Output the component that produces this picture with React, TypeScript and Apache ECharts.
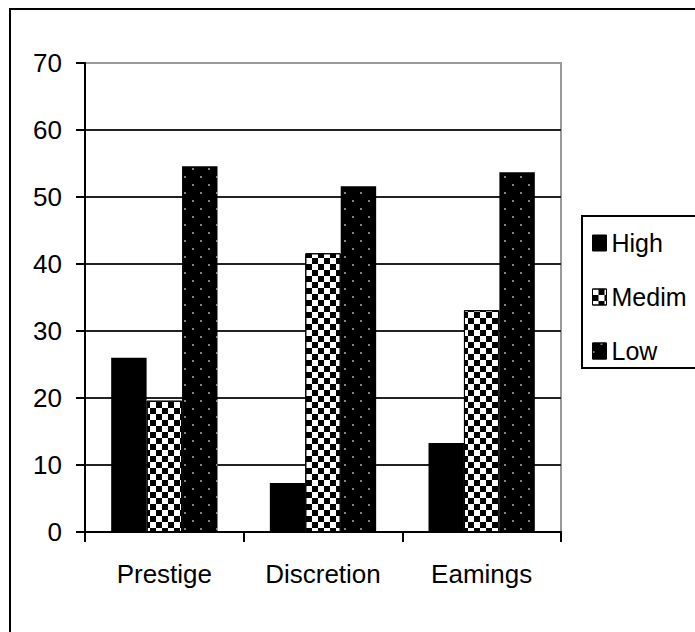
import React, { useEffect, useRef } from "react";
import * as echarts from "echarts";

const categories = ["Prestige", "Discretion", "Eamings"];
const highValues = [26, 7.3, 13.3];
const medimValues = [19.6, 41.6, 33.1];
const lowValues = [54.6, 51.6, 53.7];
const seriesNames = ["High", "Medim", "Low"];

const checkerDecal = {
  symbol: "rect",
  symbolSize: 1,
  color: "#000",
  backgroundColor: "#fff",
  dashArrayX: [
    [6, 6],
    [0, 6, 6, 0],
  ],
  dashArrayY: [6, 0],
  rotation: 0,
};

const dotDecal = {
  symbol: "rect",
  symbolSize: 0.8,
  color: "#d8d8d8",
  backgroundColor: "#000",
  dashArrayX: [
    [2, 14],
    [0, 8, 2, 6],
  ],
  dashArrayY: [2, 6],
  rotation: 0,
};

export default function App() {
  const ref = useRef<HTMLDivElement>(null);
  useEffect(() => {
    document.body.style.margin = "0";
    const chart = echarts.init(ref.current!, null, { renderer: "svg" });
    const font = "'Liberation Sans', Arial, sans-serif";
    chart.setOption({
      animation: false,
      backgroundColor: "#fff",
      textStyle: { fontFamily: font },
      grid: {
        left: 85,
        top: 63,
        right: 134,
        bottom: 100,
        show: true,
        borderColor: "#999",
        borderWidth: 2,
        backgroundColor: "transparent",
      },
      legend: {
        orient: "vertical",
        left: 587,
        top: 225,
        icon: "rect",
        itemWidth: 14,
        itemHeight: 16,
        itemGap: 28,
        data: seriesNames,
        textStyle: { fontSize: 25, lineHeight: 26, color: "#000", fontFamily: font },
        itemStyle: { borderColor: "#000", borderWidth: 1 },
      },
      graphic: [
        {
          type: "rect",
          shape: { x: 10, y: 9, width: 700, height: 700 },
          style: { fill: "none", stroke: "#000", lineWidth: 2 },
          silent: true,
        },
        {
          type: "rect",
          shape: { x: 582, y: 216, width: 200, height: 152 },
          style: { fill: "none", stroke: "#000", lineWidth: 2 },
          silent: true,
        },
      ],
      xAxis: {
        type: "category",
        data: categories,
        axisLine: { show: true, lineStyle: { color: "#000", width: 2 } },
        axisTick: { show: true, alignWithLabel: false, length: 10, lineStyle: { color: "#000", width: 2 } },
        axisLabel: { fontSize: 26, color: "#000", margin: 29, fontFamily: font },
      },
      yAxis: {
        type: "value",
        min: 0,
        max: 70,
        interval: 10,
        axisLine: { show: true, lineStyle: { color: "#000", width: 2 } },
        axisTick: { show: true, length: 9, lineStyle: { color: "#000", width: 2 } },
        axisLabel: { fontSize: 26, color: "#000", margin: 23, fontFamily: font },
        splitLine: {
          show: true,
          lineStyle: {
            color: ["#222", "#222", "#222", "#222", "#222", "#222", "#222", "#999"],
            width: 2,
          },
        },
      },
      series: [
        {
          name: seriesNames[0],
          type: "bar",
          data: highValues,
          barGap: "0%",
          barCategoryGap: "33%",
          itemStyle: { color: "#000" },
        },
        {
          name: seriesNames[1],
          type: "bar",
          data: medimValues,
          barGap: "0%",
          barCategoryGap: "33%",
          itemStyle: { color: "#fff", decal: checkerDecal, borderColor: "#000", borderWidth: 1 },
        },
        {
          name: seriesNames[2],
          type: "bar",
          data: lowValues,
          barGap: "0%",
          barCategoryGap: "33%",
          itemStyle: { color: "#000", decal: dotDecal },
        },
      ],
    });
    return () => chart.dispose();
  }, []);
  return <div ref={ref} style={{ width: 695, height: 632 }} />;
}
